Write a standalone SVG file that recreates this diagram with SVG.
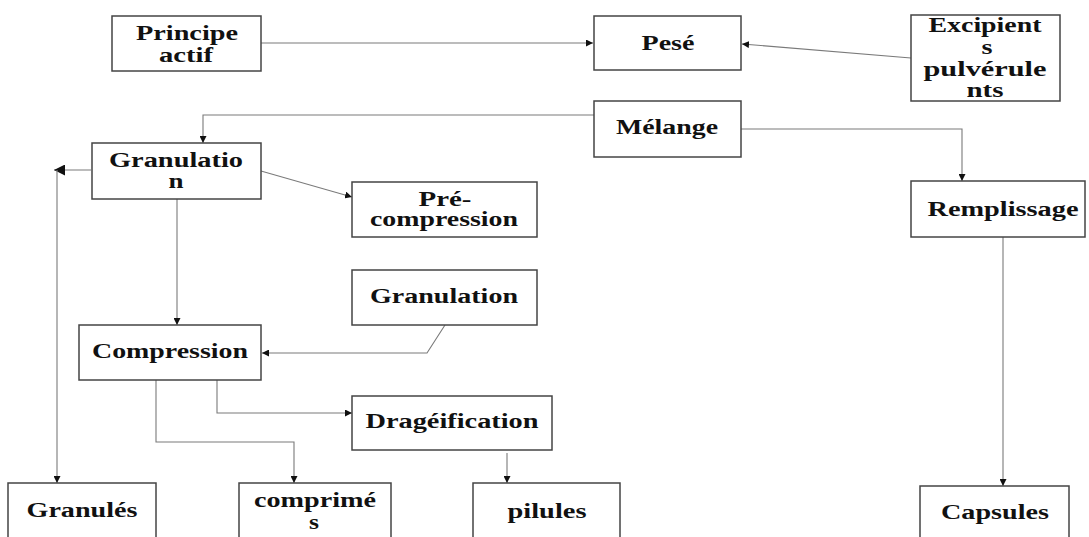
<svg xmlns="http://www.w3.org/2000/svg" width="1089" height="537" viewBox="0 0 1089 537">
  <style>
    .box { fill: #ffffff; stroke: #444444; stroke-width: 1.5; }
    .lbl { font-family: "Liberation Serif", "Times New Roman", serif; font-weight: bold; font-size: 20px; fill: #111111; text-anchor: middle; }
    .link { fill: none; stroke: #7a7a7a; stroke-width: 1.1; }
  </style>
  <defs>
    <marker id="arr" viewBox="0 0 8 8" refX="8" refY="4" markerWidth="7" markerHeight="7" markerUnits="userSpaceOnUse" orient="auto">
      <path d="M0,0 L8,4 L0,8 z" fill="#111111"/>
    </marker>
    <marker id="arrBig" viewBox="0 0 10 10" refX="10" refY="5" markerWidth="11" markerHeight="11" markerUnits="userSpaceOnUse" orient="auto">
      <path d="M0,0 L10,5 L0,10 z" fill="#111111"/>
    </marker>
  </defs>

  <!-- connectors -->
  <g id="connectors">
    <path class="link" d="M261,43 H593" marker-end="url(#arr)"/>
    <path class="link" d="M911,58 L742,44" marker-end="url(#arr)"/>
    <path class="link" d="M594,115 H203 V143" marker-end="url(#arr)"/>
    <path class="link" d="M741,129 H962 V181" marker-end="url(#arr)"/>
    <path class="link" d="M91,170 H54" marker-end="url(#arrBig)"/>
    <path class="link" d="M57,170 V483" marker-end="url(#arr)"/>
    <path class="link" d="M261,171 L352,197" marker-end="url(#arr)"/>
    <path class="link" d="M177,199 V325" marker-end="url(#arr)"/>
    <path class="link" d="M445,325 L427,353 H262" marker-end="url(#arr)"/>
    <path class="link" d="M156,380 V442 H294 V483" marker-end="url(#arr)"/>
    <path class="link" d="M217,380 V413 H352" marker-end="url(#arr)"/>
    <path class="link" d="M507,453 V483" marker-end="url(#arr)"/>
    <path class="link" d="M1003,237 V486" marker-end="url(#arr)"/>
  </g>

  <g id="principe-actif">
    <rect class="box" x="112" y="16" width="149" height="55"/>
    <text class="lbl" x="187" y="40" textLength="102" lengthAdjust="spacingAndGlyphs">Principe</text>
    <text class="lbl" x="186" y="62" textLength="54" lengthAdjust="spacingAndGlyphs">actif</text>
  </g>

  <g id="pese">
    <rect class="box" x="594" y="16" width="147" height="54"/>
    <text class="lbl" x="668" y="50" textLength="53" lengthAdjust="spacingAndGlyphs">Pesé</text>
  </g>

  <g id="excipients">
    <rect class="box" x="911" y="15" width="149" height="86"/>
    <text class="lbl" x="985" y="32" textLength="113" lengthAdjust="spacingAndGlyphs">Excipient</text>
    <text class="lbl" x="987" y="54" textLength="11" lengthAdjust="spacingAndGlyphs">s</text>
    <text class="lbl" x="985" y="76" textLength="123" lengthAdjust="spacingAndGlyphs">pulvérule</text>
    <text class="lbl" x="985" y="97" textLength="37" lengthAdjust="spacingAndGlyphs">nts</text>
  </g>

  <g id="melange">
    <rect class="box" x="594" y="101" width="147" height="56"/>
    <text class="lbl" x="667" y="134" textLength="102" lengthAdjust="spacingAndGlyphs">Mélange</text>
  </g>

  <g id="granulation">
    <rect class="box" x="92" y="143" width="169" height="56"/>
    <text class="lbl" x="176" y="167" textLength="134" lengthAdjust="spacingAndGlyphs">Granulatio</text>
    <text class="lbl" x="176" y="188" textLength="15" lengthAdjust="spacingAndGlyphs">n</text>
  </g>

  <g id="pre-compression">
    <rect class="box" x="352" y="182" width="185" height="55"/>
    <text class="lbl" x="445" y="206" textLength="53" lengthAdjust="spacingAndGlyphs">Pré-</text>
    <text class="lbl" x="444" y="226" textLength="148" lengthAdjust="spacingAndGlyphs">compression</text>
  </g>

  <g id="remplissage">
    <rect class="box" x="911" y="181" width="174" height="56"/>
    <text class="lbl" x="1003" y="216" textLength="151" lengthAdjust="spacingAndGlyphs">Remplissage</text>
  </g>

  <g id="granulation-2">
    <rect class="box" x="352" y="270" width="185" height="55"/>
    <text class="lbl" x="444" y="303" textLength="148" lengthAdjust="spacingAndGlyphs">Granulation</text>
  </g>

  <g id="compression">
    <rect class="box" x="79" y="325" width="182" height="55"/>
    <text class="lbl" x="170" y="358" textLength="156" lengthAdjust="spacingAndGlyphs">Compression</text>
  </g>

  <g id="drageification">
    <rect class="box" x="352" y="396" width="200" height="54"/>
    <text class="lbl" x="452" y="428" textLength="173" lengthAdjust="spacingAndGlyphs">Dragéification</text>
  </g>

  <g id="granules">
    <rect class="box" x="8" y="483" width="148" height="70"/>
    <text class="lbl" x="82" y="517" textLength="111" lengthAdjust="spacingAndGlyphs">Granulés</text>
  </g>

  <g id="comprimes">
    <rect class="box" x="239" y="483" width="152" height="70"/>
    <text class="lbl" x="315" y="507" textLength="122" lengthAdjust="spacingAndGlyphs">comprimé</text>
    <text class="lbl" x="314" y="529" textLength="10" lengthAdjust="spacingAndGlyphs">s</text>
  </g>

  <g id="pilules">
    <rect class="box" x="473" y="483" width="147" height="70"/>
    <text class="lbl" x="547" y="518" textLength="79" lengthAdjust="spacingAndGlyphs">pilules</text>
  </g>

  <g id="capsules">
    <rect class="box" x="920" y="486" width="149" height="70"/>
    <text class="lbl" x="995" y="519" textLength="108" lengthAdjust="spacingAndGlyphs">Capsules</text>
  </g>
</svg>
